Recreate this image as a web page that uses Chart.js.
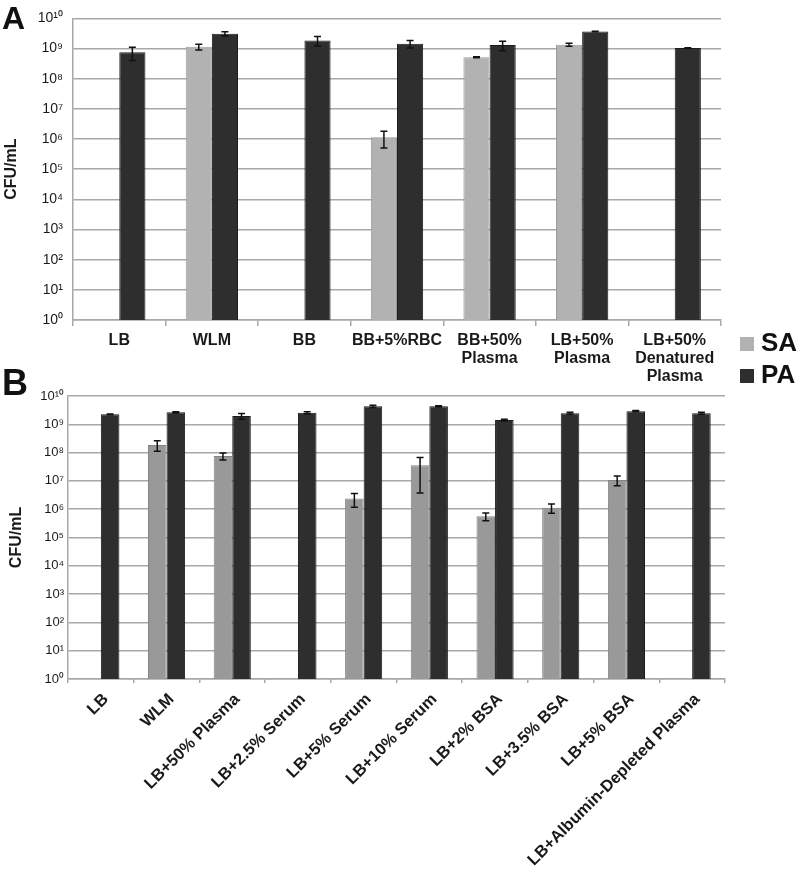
<!DOCTYPE html>
<html>
<head>
<meta charset="utf-8">
<script src="https://cdn.jsdelivr.net/npm/chart.js@4/dist/chart.umd.min.js"></script>
<style>
html,body{margin:0;padding:0;background:#fff;width:800px;height:871px;overflow:hidden;font-family:"Liberation Sans",Arial,sans-serif;}
canvas{position:absolute;left:0;}
#ca{top:0;}
#cb{top:375px;}
.letter{position:absolute;left:2px;font-weight:bold;color:#111;line-height:1;}
.leg{position:absolute;left:740px;width:14px;height:14px;}
.legt{position:absolute;left:761px;font-weight:bold;font-size:26px;line-height:1;color:#111;}
</style>
</head>
<body>
<canvas id="ca" width="800" height="392"></canvas>
<canvas id="cb" width="800" height="496"></canvas>
<div class="letter" style="top:2px;font-size:32px;">A</div>
<div class="letter" style="top:365px;font-size:36px;">B</div>
<div class="leg" style="top:337px;background:#b2b2b2;"></div>
<div class="legt" style="top:329px;">SA</div>
<div class="leg" style="top:369px;background:#2e2e2e;"></div>
<div class="legt" style="top:361px;">PA</div>
<script>
// ---------- Data ----------
const catsA = ['LB', 'WLM', 'BB', 'BB+5%RBC', ['BB+50%', 'Plasma'], ['LB+50%', 'Plasma'], ['LB+50%', 'Denatured', 'Plasma']];
const saA    = [null, 1.15e9, null, 1.15e6, 5.2e8, 1.35e9, null];
const saErrA = [null, 2.5e8, null, 6.5e5, 2e7, 1.5e8, null];
const paA    = [7.5e8, 3.1e9, 1.86e9, 1.45e9, 1.3e9, 3.7e9, 1.05e9];
const paErrA = [3.5e8, 5e8, 6.5e8, 4e8, 4.5e8, 8e7, 2e7];

const catsB = ['LB', 'WLM', 'LB+50% Plasma', 'LB+2.5% Serum', 'LB+5% Serum', 'LB+10% Serum', 'LB+2% BSA', 'LB+3.5% BSA', 'LB+5% BSA', 'LB+Albumin-Depleted Plasma'];
const saB    = [null, 1.86e8, 7.6e7, null, 2.37e6, 3.57e7, 5.6e5, 1.12e6, 1.08e7, null];
const saErrB = [null, 7.5e7, 2.1e7, null, 1.2e6, 3.2e7, 1.7e5, 4e5, 4e6, null];
const paB    = [2.25e9, 2.65e9, 1.96e9, 2.57e9, 4.3e9, 4.3e9, 1.42e9, 2.45e9, 2.9e9, 2.45e9];
const paErrB = [8e7, 1.5e8, 4.5e8, 2e8, 4e8, 2.5e8, 1e8, 2e8, 1.5e8, 2e8];

const tickExponents = [0, 1, 2, 3, 4, 5, 6, 7, 8, 9, 10];
const seriesNames = ['SA', 'PA'];

// ---------- Helpers ----------
const SUP = {'0':'⁰','1':'¹','2':'²','3':'³','4':'⁴','5':'⁵','6':'⁶','7':'⁷','8':'⁸','9':'⁹'};
function powLabel(v) {
  const e = Math.round(Math.log10(v));
  return '10' + String(e).split('').map(c => SUP[c]).join('');
}

const errPlugin = {
  id: 'errbars',
  afterDatasetsDraw(chart) {
    const ctx = chart.ctx, ys = chart.scales.y;
    ctx.save();
    ctx.strokeStyle = '#111';
    ctx.lineWidth = 1.5;
    chart.data.datasets.forEach((ds, di) => {
      const meta = chart.getDatasetMeta(di);
      meta.data.forEach((bar, i) => {
        const v = ds.data[i], e = ds.errors[i];
        if (v == null || e == null) return;
        const yt = ys.getPixelForValue(v + e);
        const yb = ys.getPixelForValue(Math.max(v - e, 1));
        const x = bar.x, c = 3.5;
        ctx.beginPath();
        ctx.moveTo(x, yt); ctx.lineTo(x, yb);
        ctx.moveTo(x - c, yt); ctx.lineTo(x + c, yt);
        ctx.moveTo(x - c, yb); ctx.lineTo(x + c, yb);
        ctx.stroke();
      });
    });
    ctx.restore();
  }
};

function makeChart(id, cats, sa, saErr, pa, paErr, o) {
  const gridCol = '#a8a8a8';
  return new Chart(document.getElementById(id), {
    type: 'bar',
    data: {
      labels: cats,
      datasets: [
        { label: seriesNames[0], data: sa, errors: saErr, backgroundColor: o.saColor, borderColor: o.saBorder, borderWidth: 1 },
        { label: seriesNames[1], data: pa, errors: paErr, backgroundColor: '#2e2e2e', borderColor: '#1c1c1c', borderWidth: 1 }
      ]
    },
    options: {
      responsive: false,
      animation: false,
      devicePixelRatio: 1,
      categoryPercentage: 0.565,
      barPercentage: 1.0,
      layout: { padding: { left: 0, right: o.padRight, top: o.padTop, bottom: 0 } },
      plugins: { legend: { display: false }, tooltip: { enabled: false } },
      scales: {
        x: {
          grid: { drawOnChartArea: false, color: gridCol, lineWidth: 1.5, tickLength: o.tickLen, offset: true },
          border: { color: gridCol, width: 1.5 },
          ticks: {
            color: '#1a1a1a',
            font: { family: '"Liberation Sans", Arial, sans-serif', size: o.xFont, weight: 'bold', lineHeight: 1.15 },
            padding: o.xPad,
            labelOffset: o.labelOffset,
            autoSkip: false,
            minRotation: o.rot, maxRotation: o.rot
          },
          afterFit: s => { s.height = o.xHeight; }
        },
        y: {
          type: 'logarithmic',
          min: 1, max: 1e10,
          afterBuildTicks: s => { s.ticks = tickExponents.map(e => ({ value: Math.pow(10, e) })); },
          grid: { color: gridCol, lineWidth: 1.5, drawTicks: false },
          border: { color: gridCol, width: 1.5 },
          ticks: {
            color: '#1a1a1a',
            font: { family: '"Liberation Sans", Arial, sans-serif', size: o.yFont },
            padding: o.yPad,
            callback: v => powLabel(v)
          },
          title: {
            display: true, text: 'CFU/mL', color: '#1a1a1a',
            font: { family: '"Liberation Sans", Arial, sans-serif', size: 16, weight: 'bold' },
            padding: { top: o.titlePad, bottom: 0 }
          },
          afterFit: s => { s.width = o.yWidth; }
        }
      }
    },
    plugins: [errPlugin]
  });
}

makeChart('ca', catsA, saA, saErrA, paA, paErrA, {
  saColor: '#b2b2b2', saBorder: '#9a9a9a',
  padRight: 79, padTop: 10, xHeight: 72, yWidth: 73,
  tickLen: 6, xFont: 16, xPad: 5, labelOffset: 0, rot: 0, yFont: 14, yPad: 10, titlePad: 2
});

makeChart('cb', catsB, saB, saErrB, paB, paErrB, {
  saColor: '#999999', saBorder: '#848484',
  padRight: 75, padTop: 21, xHeight: 192, yWidth: 68,
  tickLen: 4, xFont: 16.5, xPad: 7, labelOffset: 5, rot: 45, yFont: 13, yPad: 4, titlePad: 7
});
</script>
</body>
</html>
